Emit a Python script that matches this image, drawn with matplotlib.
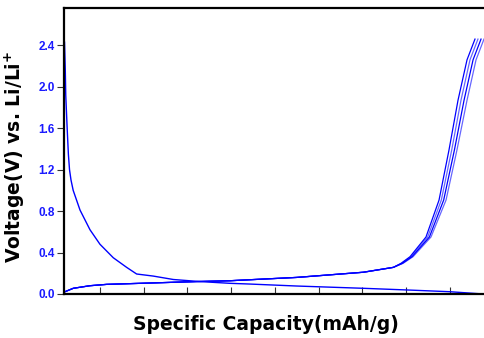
import matplotlib.pyplot as plt

plt.rcParams['font.family'] = ['Liberation Sans', 'DejaVu Sans']

# first discharge (voltage drop from ~2.4 V)
dis_cap = [9.6, 10.5, 11.0, 12.5, 14.0, 15.3, 17.0, 19.5, 27.3, 38.7, 50.1, 65.3,
           80.6, 92.0, 111.0, 133.9, 164.4, 198.7, 221.6, 274.9, 351.1, 400.6,
           450.1, 488.1]
dis_volt = [2.43, 2.15, 1.92, 1.62, 1.35, 1.20, 1.10, 1.00, 0.81, 0.62, 0.48, 0.35,
            0.257, 0.193, 0.173, 0.14, 0.12, 0.103, 0.096, 0.077, 0.055, 0.039,
            0.022, 0.0]

# charge curves - flat part shared by all cycles
chg_flat_cap = [10.1, 19.6, 38.7, 57.8, 95.9, 133.9, 160.7, 198.7, 210.2, 274.9,
                351.1, 385.4]
chg_flat_volt = [0.022, 0.055, 0.08, 0.093, 0.103, 0.113, 0.12, 0.128, 0.133, 0.16,
                 0.21, 0.257]

# steep part, one list per cycle
chg_steep_volt = [0.296, 0.36, 0.55, 0.906, 1.39, 1.87, 2.26, 2.46]
chg_cycle1 = [394.2, 404.5, 422.7, 437.6, 449.0, 459.3, 469.6, 478.7]
chg_cycle2 = [395.0, 405.6, 424.6, 440.2, 452.1, 462.7, 473.0, 482.1]
chg_cycle3 = [395.8, 406.8, 426.6, 442.9, 455.2, 466.2, 476.5, 485.6]
chg_cycle4 = [396.5, 407.9, 428.4, 445.6, 458.1, 469.6, 479.9, 489.0]

x_ticks = [50, 100, 150, 200, 250, 300, 350, 400, 450]
y_ticks = [0.0, 0.4, 0.8, 1.2, 1.6, 2.0, 2.4]

fig = plt.figure(figsize=(4.84, 3.38), dpi=100)
ax = fig.add_axes([64 / 484, 1 - 294 / 338, 1 - 64 / 484, (294 - 8) / 338])

ax.plot(dis_cap, dis_volt, color='blue', lw=1.0)
for cyc, a in zip([chg_cycle1, chg_cycle2, chg_cycle3, chg_cycle4], [1.0, 0.6, 1.0, 0.6]):
    ax.plot(chg_flat_cap + cyc, chg_flat_volt + chg_steep_volt, color='blue', lw=0.9, alpha=a)

ax.set_xlim(9, 489)
ax.set_ylim(0, 2.76)
ax.set_xticks(x_ticks)
ax.set_xticklabels([])
ax.set_yticks(y_ticks)
ax.set_yticklabels([f'{v:.1f}' for v in y_ticks], color='#1a1aff', fontweight='bold', fontsize=8.5)
ax.tick_params(axis='x', direction='in', length=5, width=0.8, color='#333333')
ax.tick_params(axis='y', direction='out', length=5, width=0.8, color='#333333', pad=1.5)

for s in ['left', 'top', 'bottom']:
    ax.spines[s].set_linewidth(1.6)
ax.spines['right'].set_visible(False)

ax.set_ylabel(r'Voltage(V) vs. Li/Li$^{\mathbf{+}}$', fontsize=13.5, fontweight='bold',
              family='DejaVu Sans')
ax.yaxis.set_label_coords(-0.088, 0.48)
ax.set_xlabel('Specific Capacity(mAh/g)', fontsize=13.5, fontweight='bold',
              family='DejaVu Sans')
ax.xaxis.set_label_coords((266 - 64) / 420, -(315 - 294) / 286)

fig.savefig('out.png', dpi=100)
